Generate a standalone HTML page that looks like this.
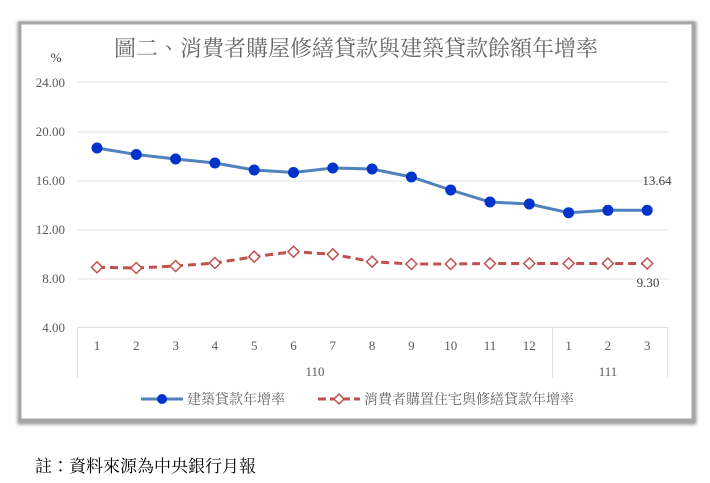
<!DOCTYPE html>
<html><head><meta charset="utf-8"><style>
html,body{margin:0;padding:0;background:#fff;width:710px;height:483px;overflow:hidden}
svg{display:block}
text{font-family:"Liberation Serif","Noto Serif CJK TC","Noto Serif CJK SC",serif}
</style></head><body>
<svg width="710" height="483" viewBox="0 0 710 483">
<defs><filter id="sh" x="-5%" y="-5%" width="110%" height="110%"><feGaussianBlur stdDeviation="1.5"/></filter></defs>
<rect x="20" y="24" width="674" height="398" fill="none" stroke="#999" stroke-width="5" filter="url(#sh)"/>
<rect x="20" y="23" width="673" height="397" fill="#fff" stroke="#a6a6a6" stroke-width="3"/>
<text x="356" y="56" font-size="22" fill="#666" text-anchor="middle" font-family="Noto Serif CJK TC,Noto Serif CJK SC,serif">圖二、消費者購屋修繕貸款與建築貸款餘額年增率</text>
<text x="56" y="62" font-size="13" fill="#404040" text-anchor="middle">%</text>
<g stroke="#e0e0e0" stroke-width="1">
<line x1="77" y1="82" x2="668" y2="82"/><line x1="77" y1="132" x2="668" y2="132"/>
<line x1="77" y1="181" x2="668" y2="181"/><line x1="77" y1="230" x2="668" y2="230"/>
<line x1="77" y1="279" x2="668" y2="279"/><line x1="77" y1="327.5" x2="668" y2="327.5"/>
<line x1="77.5" y1="328" x2="77.5" y2="378"/><line x1="552.5" y1="328" x2="552.5" y2="378"/><line x1="667.5" y1="328" x2="667.5" y2="378"/>
</g>
<g font-size="13" fill="#595959" text-anchor="end">
<text x="65" y="87">24.00</text><text x="65" y="136">20.00</text><text x="65" y="185">16.00</text>
<text x="65" y="234">12.00</text><text x="65" y="283">8.00</text><text x="65" y="332">4.00</text>
</g>
<g font-size="13" fill="#595959" text-anchor="middle">
<text x="97" y="350">1</text><text x="136.3" y="350">2</text><text x="175.6" y="350">3</text><text x="214.9" y="350">4</text><text x="254.2" y="350">5</text><text x="293.5" y="350">6</text><text x="332.8" y="350">7</text><text x="372.1" y="350">8</text><text x="411.4" y="350">9</text><text x="450.7" y="350">10</text><text x="490" y="350">11</text><text x="529.3" y="350">12</text><text x="568.6" y="350">1</text><text x="607.9" y="350">2</text><text x="647.2" y="350">3</text>
<text x="315" y="376">110</text><text x="608" y="376">111</text>
</g>
<polyline fill="none" stroke="#4f81bd" stroke-width="3" points="97,148 136.3,154.5 175.6,159 214.9,163 254.2,170 293.5,172.5 332.8,168 372.1,169 411.4,177 450.7,190 490,202 529.3,204 568.6,212.7 607.9,210.3 647.2,210.3"/>
<g fill="#0033cc">
<circle cx="97" cy="148" r="5.5"/><circle cx="136.3" cy="154.5" r="5.5"/><circle cx="175.6" cy="159" r="5.5"/><circle cx="214.9" cy="163" r="5.5"/><circle cx="254.2" cy="170" r="5.5"/><circle cx="293.5" cy="172.5" r="5.5"/><circle cx="332.8" cy="168" r="5.5"/><circle cx="372.1" cy="169" r="5.5"/><circle cx="411.4" cy="177" r="5.5"/><circle cx="450.7" cy="190" r="5.5"/><circle cx="490" cy="202" r="5.5"/><circle cx="529.3" cy="204" r="5.5"/><circle cx="568.6" cy="212.7" r="5.5"/><circle cx="607.9" cy="210.3" r="5.5"/><circle cx="647.2" cy="210.3" r="5.5"/>
</g>
<polyline fill="none" stroke="#c0504d" stroke-width="3" stroke-dasharray="8,5" points="97,267.3 136.3,268 175.6,266 214.9,263 254.2,256.7 293.5,251.7 332.8,254.3 372.1,261.7 411.4,264 450.7,264 490,263.5 529.3,263.5 568.6,263.5 607.9,263.5 647.2,263.5"/>
<g fill="#fff" stroke="#c0504d" stroke-width="1.5">
<path d="M97 261.8l5.5 5.5-5.5 5.5-5.5-5.5z"/><path d="M136.3 262.5l5.5 5.5-5.5 5.5-5.5-5.5z"/><path d="M175.6 260.5l5.5 5.5-5.5 5.5-5.5-5.5z"/><path d="M214.9 257.5l5.5 5.5-5.5 5.5-5.5-5.5z"/><path d="M254.2 251.2l5.5 5.5-5.5 5.5-5.5-5.5z"/><path d="M293.5 246.2l5.5 5.5-5.5 5.5-5.5-5.5z"/><path d="M332.8 248.8l5.5 5.5-5.5 5.5-5.5-5.5z"/><path d="M372.1 256.2l5.5 5.5-5.5 5.5-5.5-5.5z"/><path d="M411.4 258.5l5.5 5.5-5.5 5.5-5.5-5.5z"/><path d="M450.7 258.5l5.5 5.5-5.5 5.5-5.5-5.5z"/><path d="M490 258l5.5 5.5-5.5 5.5-5.5-5.5z"/><path d="M529.3 258l5.5 5.5-5.5 5.5-5.5-5.5z"/><path d="M568.6 258l5.5 5.5-5.5 5.5-5.5-5.5z"/><path d="M607.9 258l5.5 5.5-5.5 5.5-5.5-5.5z"/><path d="M647.2 258l5.5 5.5-5.5 5.5-5.5-5.5z"/>
</g>
<text x="657" y="185" font-size="13" fill="#404040" text-anchor="middle">13.64</text>
<text x="648" y="287" font-size="13" fill="#404040" text-anchor="middle">9.30</text>
<line x1="141" y1="399" x2="183" y2="399" stroke="#4f81bd" stroke-width="3"/>
<circle cx="162" cy="399" r="5" fill="#0033cc"/>
<text x="187" y="404" font-size="14" fill="#666">建築貸款年增率</text>
<line x1="318" y1="399" x2="360" y2="399" stroke="#c0504d" stroke-width="3" stroke-dasharray="8,4"/>
<path d="M339 394l5 5-5 5-5-5z" fill="#fff" stroke="#c0504d" stroke-width="1.5"/>
<text x="364" y="404" font-size="14" fill="#666">消費者購置住宅與修繕貸款年增率</text>
<text x="35" y="472" font-size="17" fill="#000" font-family="Liberation Sans,Noto Sans CJK TC,sans-serif">註：資料來源為中央銀行月報</text>
</svg>
</body></html>
